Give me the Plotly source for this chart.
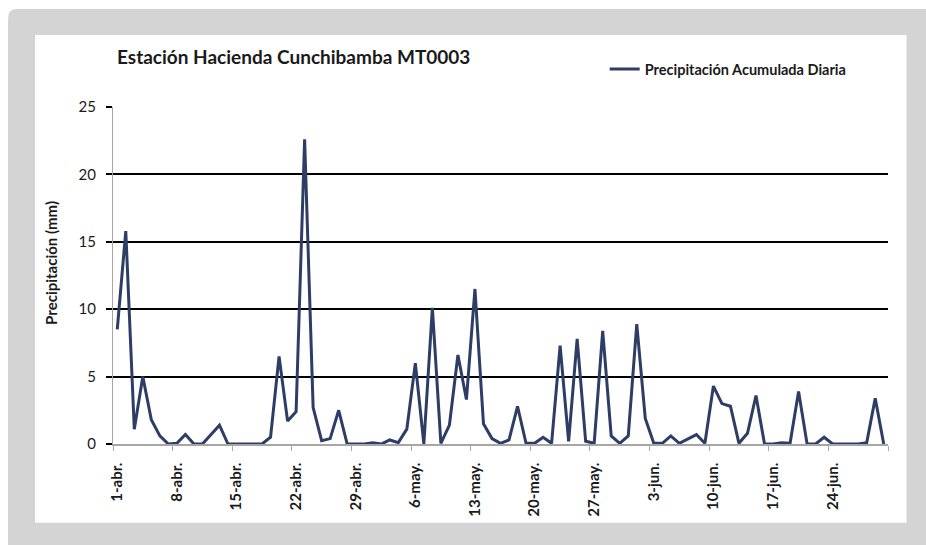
import plotly.graph_objects as go
import pandas as pd

# ---------------- data ----------------
start_date = "2013-04-01"
n_days = 91
dates = pd.date_range(start_date, periods=n_days, freq="D")

precip_mm = [8.5, 15.8, 1.1, 5.0, 1.8, 0.6, 0.0, 0.05, 0.7, 0.0,
             0.0, 0.7, 1.4, 0.0, 0.0, 0.0, 0.0, 0.0, 0.5, 6.5,
             1.7, 2.4, 22.6, 2.7, 0.25, 0.4, 2.5, 0.0, 0.0, 0.0,
             0.1, 0.0, 0.3, 0.1, 1.1, 6.0, 0.0, 10.1, 0.05, 1.4,
             6.6, 3.3, 11.5, 1.5, 0.4, 0.05, 0.3, 2.8, 0.05, 0.05,
             0.5, 0.05, 7.3, 0.2, 7.8, 0.2, 0.05, 8.4, 0.6, 0.05,
             0.6, 8.9, 1.9, 0.05, 0.05, 0.6, 0.05, 0.35, 0.7, 0.05,
             4.3, 3.0, 2.8, 0.05, 0.8, 3.6, 0.0, 0.0, 0.1, 0.05,
             3.9, 0.0, 0.0, 0.5, 0.0, 0.0, 0.0, 0.0, 0.1, 3.4, 0.0]

tick_labels = ["1-abr.", "8-abr.", "15-abr.", "22-abr.", "29-abr.", "6-may.",
               "13-may.", "20-may.", "27-may.", "3-jun.", "10-jun.", "17-jun.",
               "24-jun."]
tick_dates = [dates[7 * i] for i in range(len(tick_labels))]
half_day = pd.Timedelta(hours=12)
boundary_dates = [dates[0] + pd.Timedelta(days=7 * i) - half_day for i in range(len(tick_labels) + 1)]

y_ticks = [0, 5, 10, 15, 20, 25]

series_name = "Precipitación Acumulada Diaria"
title_text = "Estación Hacienda Cunchibamba MT0003"
y_title = "Precipitación (mm)"

# ---------------- layout geometry ----------------
W, H = 926, 545
L, R, T, B = 113, 926 - 888.5, 107, 545 - 444.3
PW, PH = W - L - R, H - T - B

def px(x):
    return (x - L) / PW

def py(y):
    return (H - B - y) / PH

LINE_COLOR = "#2E3D66"
GRAY_BG = "#D4D4D4"
FONT = "Lato"
TXT = "#1A1A1A"

fig = go.Figure()
fig.add_trace(go.Scatter(
    x=dates, y=precip_mm, mode="lines", name=f"<b>{series_name}</b>",
    line=dict(color=LINE_COLOR, width=3), showlegend=True,
))

# outer gray frame with rounded top-left corner, white chart panel
r = 9
gx0, gy0, gx1, gy1 = 8, 9, 940, 560
gray_path = (f"M {px(gx0)},{py(gy0 + r)} Q {px(gx0)},{py(gy0)} {px(gx0 + r)},{py(gy0)} "
             f"L {px(gx1)},{py(gy0)} L {px(gx1)},{py(gy1)} L {px(gx0)},{py(gy1)} Z")
shapes = [
    dict(type="path", path=gray_path, xref="paper", yref="paper",
         fillcolor=GRAY_BG, line=dict(width=0), layer="below"),
    dict(type="rect", xref="paper", yref="paper", x0=px(35), x1=px(907), y0=py(523), y1=py(35),
         fillcolor="white", line=dict(width=0), layer="below"),
]

fig.update_layout(
    width=W, height=H,
    margin=dict(l=L, r=R, t=T, b=B, autoexpand=False),
    paper_bgcolor="white",
    plot_bgcolor="rgba(0,0,0,0)",
    shapes=shapes,
    font=dict(family=FONT, color=TXT),
    title=dict(text=f"<b>{title_text}</b>", x=117 / W, xanchor="left", xref="container",
               y=1 - 57 / H, yanchor="middle", yref="container",
               font=dict(family=FONT, size=19, color=TXT)),
    legend=dict(x=px(605), y=py(69), xanchor="left", yanchor="middle",
                orientation="h", bgcolor="rgba(0,0,0,0)",
                font=dict(family=FONT, size=14.5, color=TXT),
                itemwidth=30),
    annotations=[dict(text=f"<b>{y_title}</b>", textangle=-90, showarrow=False,
                      xref="paper", yref="paper", x=px(51), y=py(263),
                      xanchor="center", yanchor="middle",
                      font=dict(family=FONT, size=15, color=TXT))],
)

fig.update_xaxes(
    range=[dates[0] - half_day, dates[-1] + half_day],
    tickmode="array", tickvals=tick_dates, ticktext=[f"<b>{t}</b>" for t in tick_labels],
    tickangle=-90, ticks="outside", ticklen=0, ticklabelstandoff=11,
    tickfont=dict(family=FONT, size=15, color=TXT),
    showgrid=False, zeroline=False,
    showline=True, linecolor="#A6A6A6", linewidth=1.5,
    minor=dict(tickmode="array", tickvals=boundary_dates, ticks="outside",
               ticklen=5, tickcolor="#A6A6A6", tickwidth=1, showgrid=False),
)

fig.update_yaxes(
    range=[0, 25], tickmode="array", tickvals=y_ticks,
    ticks="outside", ticklen=6, tickcolor="#000000", tickwidth=1.5,
    tickfont=dict(family=FONT, size=15, color=TXT),
    ticklabelstandoff=7,
    showgrid=True, gridcolor="#000000", gridwidth=1.8,
    zeroline=False,
    showline=True, linecolor="#A6A6A6", linewidth=1,
)

fig.write_html("out.html", config={"displayModeBar": False},
               post_script="document.body.style.margin='0';")
